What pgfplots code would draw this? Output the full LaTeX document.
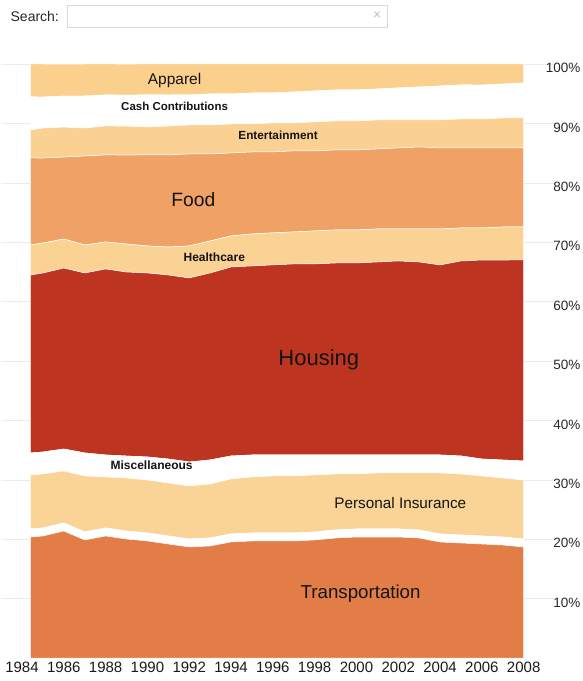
\documentclass[border=0pt]{standalone}
\usepackage{fontspec}
\setmainfont{Liberation Sans}
\usepackage{pgfplots}
\usepackage{pgfplotstable}
\pgfplotsset{compat=1.18}

\definecolor{transC}{RGB}{227,125,72}
\definecolor{insC}{RGB}{250,211,150}
\definecolor{houseC}{RGB}{189,53,33}
\definecolor{healthC}{RGB}{250,210,148}
\definecolor{foodC}{RGB}{239,161,102}
\definecolor{entC}{RGB}{250,209,146}
\definecolor{appC}{RGB}{250,208,140}

% share of spending, percent, stacked bottom to top
\pgfplotstableread{
year   trans gap  ins   misc house health food  ent  cash app
1984.4 20.37 1.35 9.09  3.70 29.97 5.05 14.65 4.71 5.56 5.56
1985   20.54 1.35 9.09  3.70 30.13 5.05 14.31 5.05 5.22 5.56
1986   21.38 1.35 8.75  3.70 30.47 4.88 13.80 5.05 5.22 5.39
1987   19.87 1.35 9.43  3.87 30.30 4.71 14.98 4.71 5.39 5.39
1988   20.54 1.35 8.59  3.70 31.31 4.55 14.65 4.88 5.22 5.22
1989   20.03 1.35 8.92  3.70 30.98 4.71 14.98 4.88 5.22 5.22
1990   19.70 1.35 8.92  3.87 30.98 4.55 15.32 4.71 5.39 5.22
1991   19.19 1.35 8.92  4.04 30.98 4.71 15.49 4.88 5.22 5.22
1992   18.69 1.35 8.92  4.04 30.98 5.39 15.49 4.88 5.05 5.22
1993   18.86 1.35 9.09  4.04 31.48 5.39 14.65 4.88 5.22 5.05
1994   19.53 1.35 9.26  3.87 31.82 5.22 13.97 4.88 5.05 5.05
1995   19.70 1.35 9.43  3.70 31.82 5.39 13.80 4.71 5.22 4.88
1996   19.70 1.35 9.60  3.54 31.99 5.39 13.64 4.88 5.05 4.88
1997   19.70 1.35 9.60  3.54 32.15 5.39 13.64 4.71 5.22 4.71
1998   19.87 1.35 9.60  3.37 32.15 5.56 13.47 4.88 5.22 4.55
1999   20.20 1.35 9.43  3.20 32.32 5.56 13.47 4.88 5.22 4.38
2000   20.37 1.35 9.26  3.20 32.32 5.56 13.47 4.88 5.22 4.38
2001   20.37 1.35 9.43  3.03 32.49 5.56 13.47 4.88 5.22 4.21
2002   20.37 1.35 9.43  3.03 32.66 5.39 13.64 4.71 5.39 4.04
2003   20.20 1.35 9.60  3.03 32.49 5.56 13.80 4.55 5.56 3.87
2004   19.53 1.35 10.27 3.03 31.99 6.06 13.64 4.71 5.72 3.70
2005   19.36 1.35 10.27 3.03 32.83 5.56 13.47 4.88 5.72 3.54
2006   19.19 1.35 10.10 2.86 33.50 5.39 13.47 4.88 5.72 3.54
2007   19.02 1.35 9.93  3.03 33.67 5.56 13.30 5.05 5.72 3.37
2008   18.69 1.35 9.93  3.20 33.84 5.56 13.30 5.05 5.89 3.20
}\spend

\begin{document}
\begin{tikzpicture}
\path[use as bounding box] (-1.1pt,-23pt) rectangle (580.9pt,658pt);
% search field above the chart
\node[anchor=west, font=\fontsize{14}{14}\selectfont, text=black!85] at (6pt,642pt) {Search:};
\draw[black!15, line width=0.6pt] (66pt,631pt) rectangle (386pt,653pt);
\node[text=black!25, font=\fontsize{14}{14}\selectfont] at (376pt,642pt) {×};
\begin{axis}[
  at={(0pt,0pt)}, anchor=south west,
  scale only axis, width=553.9pt, height=594pt,
  xmin=1983, xmax=2009.5, ymin=0, ymax=100,
  stack plots=y,
  axis line style={draw=none}, tick style={draw=none},
  xtick={1984,1986,...,2008},
  /pgf/number format/1000 sep={},
  /pgf/number format/assume math mode=true,
  ytick={10,20,...,100},
  yticklabels={10\%,20\%,30\%,40\%,50\%,60\%,70\%,80\%,90\%,100\%},
  yticklabel pos=right,
  ymajorgrids, major grid style={black!8},
  xticklabel style={font=\fontsize{15}{15}\selectfont, text=black!90},
  yticklabel style={font=\fontsize{13.5}{13.5}\selectfont, text=black!85,
    anchor=east, xshift=29pt, yshift=-4pt},
]
\addplot[fill=transC, draw=white, line width=0.5pt] table[x=year,y=trans] {\spend} \closedcycle;
\addplot[fill=white, draw=white, line width=0.5pt] table[x=year,y=gap] {\spend} \closedcycle;
\addplot[fill=insC, draw=white, line width=0.5pt] table[x=year,y=ins] {\spend} \closedcycle;
\addplot[fill=white, draw=white, line width=0.5pt] table[x=year,y=misc] {\spend} \closedcycle;
\addplot[fill=houseC, draw=white, line width=0.5pt] table[x=year,y=house] {\spend} \closedcycle;
\addplot[fill=healthC, draw=white, line width=0.5pt] table[x=year,y=health] {\spend} \closedcycle;
\addplot[fill=foodC, draw=white, line width=0.5pt] table[x=year,y=food] {\spend} \closedcycle;
\addplot[fill=entC, draw=white, line width=0.5pt] table[x=year,y=ent] {\spend} \closedcycle;
\addplot[fill=white, draw=white, line width=0.5pt] table[x=year,y=cash] {\spend} \closedcycle;
\addplot[fill=appC, draw=white, line width=0.5pt] table[x=year,y=app] {\spend} \closedcycle;

\coordinate (lApp) at (axis cs:1991.3,97.3);
\coordinate (lCash) at (axis cs:1991.3,92.9);
\coordinate (lEnt) at (axis cs:1996.25,88.0);
\coordinate (lFood) at (axis cs:1992.2,77.1);
\coordinate (lHealth) at (axis cs:1993.2,67.5);
\coordinate (lHouse) at (axis cs:1998.2,50.2);
\coordinate (lMisc) at (axis cs:1990.2,32.5);
\coordinate (lIns) at (axis cs:2002.1,26.1);
\coordinate (lTrans) at (axis cs:2000.2,10.9);
\end{axis}
\begin{scope}[every node/.style={text=black!92}]
\node[font=\fontsize{15.5}{15.5}\selectfont] at (lApp) {Apparel};
\node[font=\bfseries\fontsize{11.5}{11.5}\selectfont] at (lCash) {Cash Contributions};
\node[font=\bfseries\fontsize{11.8}{11.8}\selectfont] at (lEnt) {Entertainment};
\node[font=\fontsize{19.3}{19.3}\selectfont] at (lFood) {Food};
\node[font=\bfseries\fontsize{12}{12}\selectfont] at (lHealth) {Healthcare};
\node[font=\fontsize{22}{22}\selectfont] at (lHouse) {Housing};
\node[font=\bfseries\fontsize{12}{12}\selectfont] at (lMisc) {Miscellaneous};
\node[font=\fontsize{15.3}{15.3}\selectfont] at (lIns) {Personal Insurance};
\node[font=\fontsize{18.7}{18.7}\selectfont] at (lTrans) {Transportation};
\end{scope}
\end{tikzpicture}
\end{document}
